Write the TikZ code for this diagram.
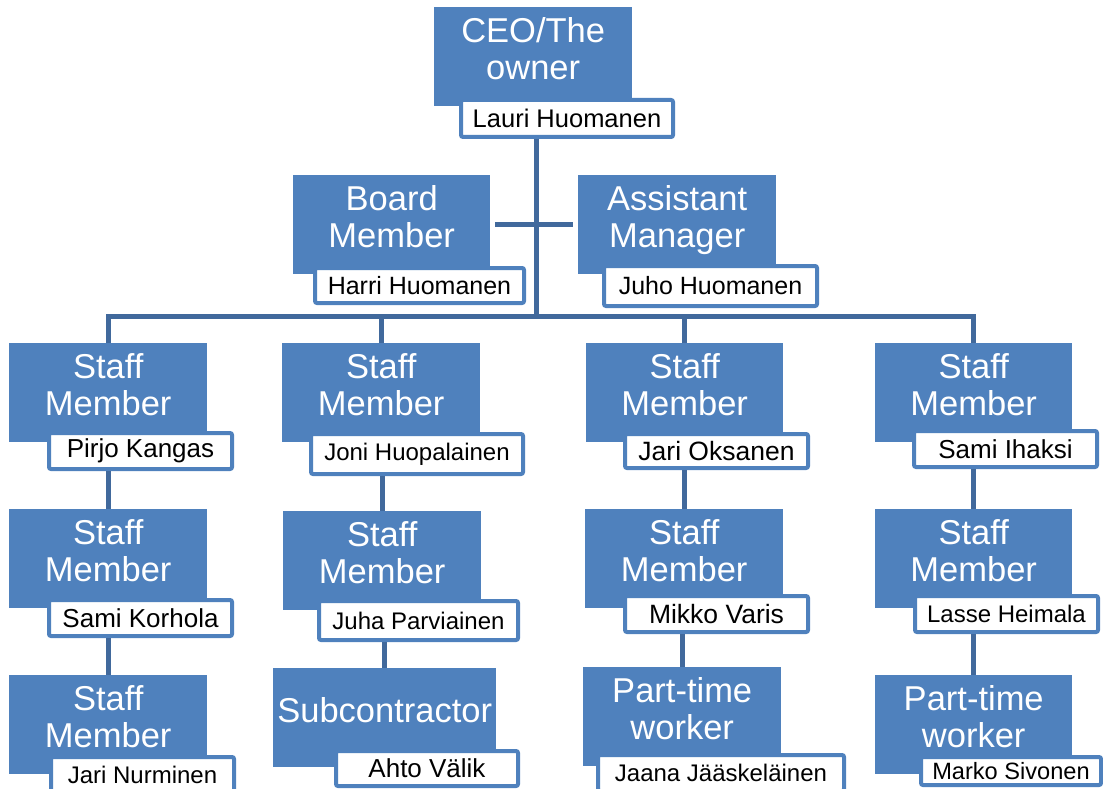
\documentclass[tikz,border=0pt]{standalone}
\usepackage{fontspec}
\setmainfont{Liberation Sans}
\definecolor{boxblue}{HTML}{4F81BD}
\definecolor{linkblue}{HTML}{41699C}

\begin{document}
\begin{tikzpicture}[x=1pt,y=-1pt]
        % Styles
        \tikzstyle{post}=[fill=boxblue,inner sep=0pt,minimum height=99pt,anchor=north west]
        \tikzstyle{post title}=[text=white,align=center,text depth=0pt,font=\fontsize{34.5}{36.5}\selectfont]
        \tikzstyle{holder}=[draw=boxblue,line width=4pt,fill=white,rounded corners=2pt,inner sep=0pt,anchor=north west]
        \tikzstyle{link}=[draw=linkblue,line width=5pt]
        \useasboundingbox (0,0) rectangle (1103,789);
        %posts
        \foreach \id/\x/\y/\w/\txt in {ceo/434/7/198/{CEO/The\\owner},
            board/293/175/197/{Board\\Member}, asst/578/175/198/{Assistant\\Manager},
            s11/9/343/198/{Staff\\Member}, s21/282/343/198/{Staff\\Member},
            s31/586/343/197/{Staff\\Member}, s41/875/343/197/{Staff\\Member},
            s12/9/509/198/{Staff\\Member}, s22/283/511/198/{Staff\\Member},
            s32/585/509/198/{Staff\\Member}, s42/875/509/197/{Staff\\Member},
            s13/9/675/198/{Staff\\Member}, s23/273/668/223/{Subcontractor},
            s33/583/667/198/{Part-time\\worker}, s43/875/675/197/{Part-time\\worker}}
        {
            \node[post,minimum width=\w pt] (\id) at (\x,\y) {};
            \node[post title] at ([yshift=-41.5pt]\id.north) {\txt};
        }
        %names
        \foreach \id/\x/\y/\w/\hh/\fs/\who in {ceo/459/98/212/37/25.5/Lauri Huomanen,
            board/313/266/209/35/25/Harri Huomanen, asst/602/264/213/40/25/Juho Huomanen,
            s11/47/431/183/36/26/Pirjo Kangas, s21/309/432/212/40/24/Joni Huopalainen,
            s31/623/432/183/34/26.5/Jari Oksanen, s41/912/429/183/36/26/Sami Ihaksi,
            s12/47/598/183/36/26/Sami Korhola, s22/317/599/199/39/24/Juha Parviainen,
            s32/623/594/183/36/26.5/Mikko Varis, s42/913/594/183/36/24/Lasse Heimala,
            s13/49/755/183/36/24/Jari Nurminen, s23/334/749/182/35/26/Ahto Välik,
            s33/596/753/246/36/24/Jaana Jääskeläinen, s43/919/755/180/28/23.6/Marko Sivonen}
            \node[holder,minimum width=\w pt,minimum height=\hh pt,font=\fontsize{\fs}{\fs}\selectfont] (h\id) at (\x,\y) {\who};
        %connectors
        \coordinate (bus) at (536,316);
        \draw[link] (bus |- hceo.south) -- (bus);
        \draw[link,shorten <=5pt,shorten >=5pt] (board) -- (asst);
        \draw[link] (s11.north) |- (bus) -| (s41.north);
        \foreach \c in {s21,s31}
            \draw[link] (\c.north) -- (\c.north |- bus);
        \foreach \a/\b in {s11/s12,s12/s13,s21/s22,s22/s23,s31/s32,s32/s33,s41/s42,s42/s43}
            \draw[link] (\b.north |- h\a.south) -- (\b.north);
\end{tikzpicture}
\end{document}
